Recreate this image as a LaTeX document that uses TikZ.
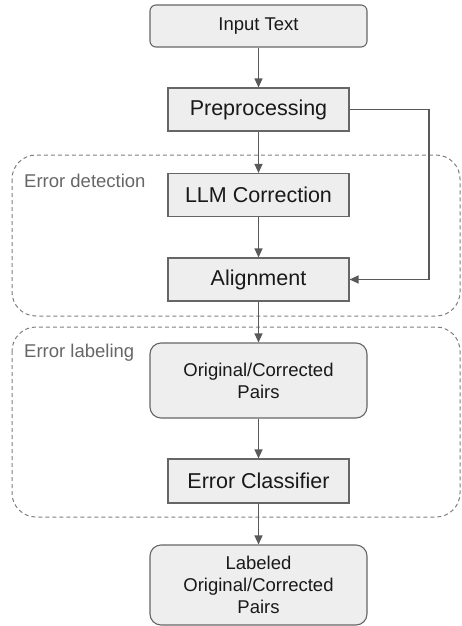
\documentclass[tikz,border=0pt]{standalone}
\usepackage{fontspec}
\setmainfont{Liberation Sans}
\usetikzlibrary{arrows.meta}
\definecolor{boxfill}{HTML}{EEEEEE}
\definecolor{boxline}{HTML}{666666}
\definecolor{arrowc}{HTML}{595959}
\definecolor{grouplabel}{HTML}{666666}
\definecolor{dashc}{HTML}{7F7F7F}
\begin{document}
\begin{tikzpicture}[x=1pt,y=-1pt,
  base/.style={draw=boxline, fill=boxfill, line width=1.1pt, inner sep=0pt, align=center, text=black!90},
  rectbox/.style={base, minimum width=181pt, minimum height=43pt, font=\fontsize{21.5}{25}\selectfont},
  roundbox/.style={base, rounded corners=7pt, minimum width=217pt, font=\fontsize{18.5}{21.8}\selectfont},
  group/.style={draw=dashc, dashed, dash pattern=on 4pt off 3pt, line width=1pt, rounded corners=24pt},
  grouptext/.style={anchor=west, inner sep=0pt, text=grouplabel, font=\fontsize{18.5}{22}\selectfont},
  flow/.style={draw=arrowc, line width=1.2pt, -{Triangle[length=9pt,width=8pt]}}
]
\useasboundingbox (0,0) rectangle (461,626);
% groups
\draw[group] (12,155) rectangle (460,316);
\draw[group] (12,327) rectangle (460,517);
\node[grouptext] (gdet) at (24,181) {Error detection};
\node[grouptext] (glab) at (24,353) {Error labeling};
% nodes
\node[roundbox, minimum height=42pt, rounded corners=6pt] (in) at (258.5,26) {Input Text};
\node[rectbox] (pre) at (258.5,109.5) {Preprocessing};
\node[rectbox] (llm) at (258.5,195) {LLM Correction};
\node[rectbox] (ali) at (258.5,279.5) {Alignment};
\node[roundbox, minimum height=75pt, rounded corners=11pt] (pairs) at (258.5,380.5) {Original/Corrected\\Pairs};
\node[rectbox, minimum height=44pt] (clf) at (258.5,481) {Error Classifier};
\node[roundbox, minimum height=80pt, rounded corners=11pt] (lab) at (258.5,585) {Labeled\\Original/Corrected\\Pairs};
% connectors
\draw[flow] (in) -- (pre);
\draw[flow] (pre) -- (llm);
\draw[flow] (llm) -- (ali);
\draw[flow] (ali) -- (pairs);
\draw[flow] (pairs) -- (clf);
\draw[flow] (clf) -- (lab);
\coordinate (turn) at (429,109.5);
\draw[flow] (pre.east) -- (turn) |- (ali.east);
\end{tikzpicture}
\end{document}
